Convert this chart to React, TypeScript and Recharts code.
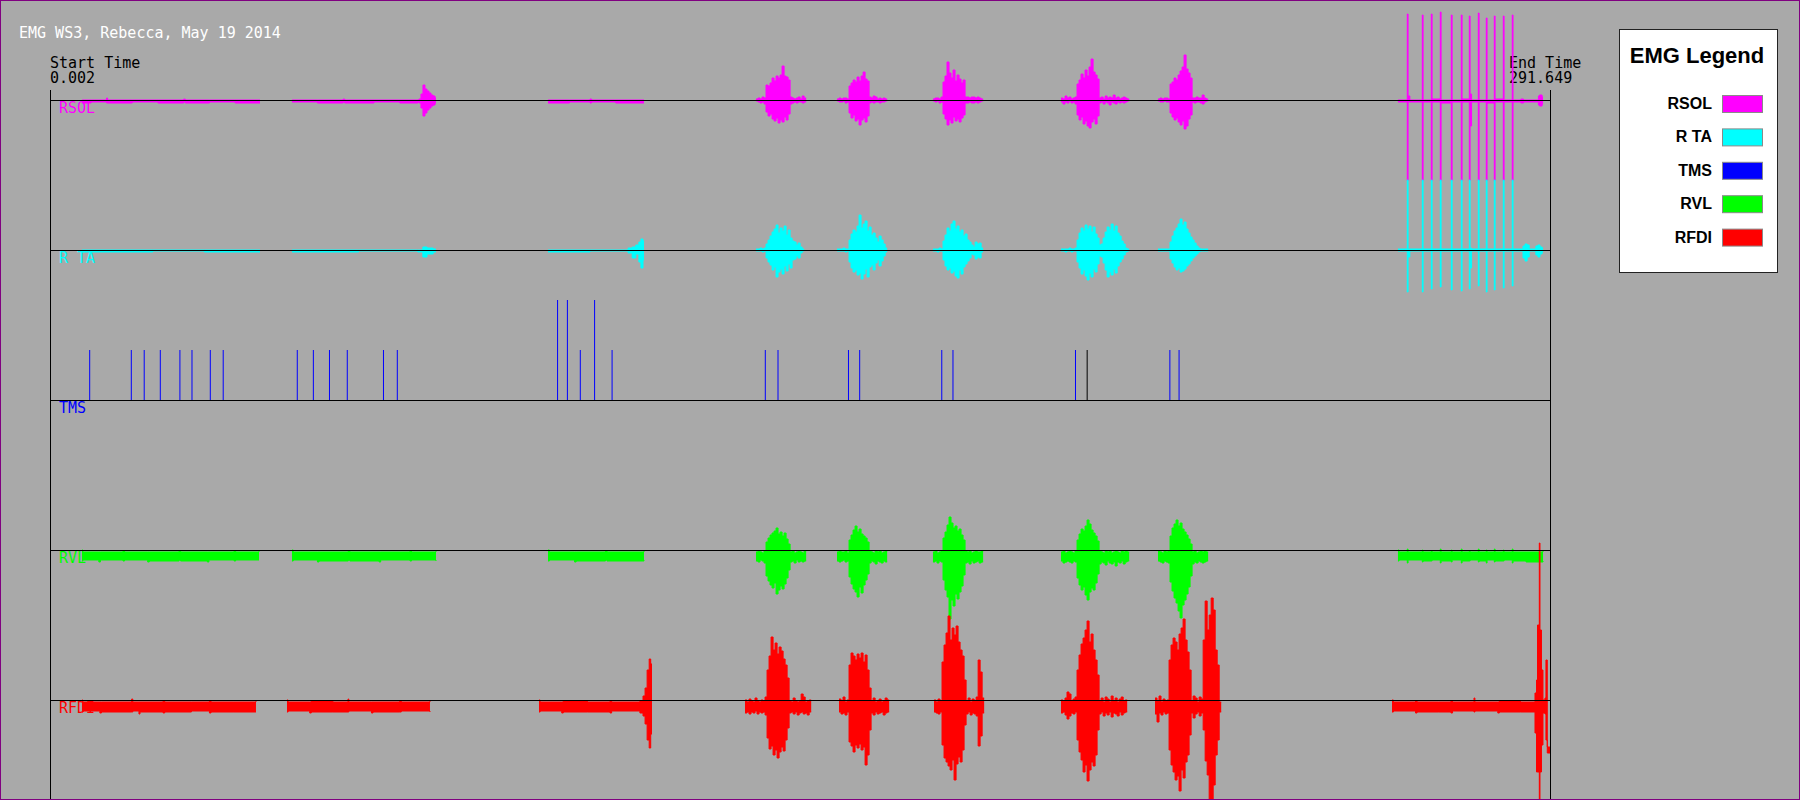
import React from "react";
import { ComposedChart, Area, Line, XAxis, YAxis, ReferenceLine } from "recharts";

const T_START = 0.002;
const T_END = 291.649;
const DT = 0.39; // s between samples inside a burst

const TITLE = "EMG WS3, Rebecca, May 19 2014";
const CHANNELS = ["RSOL", "R TA", "TMS", "RVL", "RFDI"];
const COLORS = ["#ff00ff", "#00ffff", "#0000ff", "#00ff00", "#ff0000"];
// µV over the full panel height per trace, 0 = the trace's baseline
const DOMAINS: [number, number][] = [[-7000, 1000], [-5500, 2500], [-4000, 4000], [-2500, 5500], [-1000, 7000]];

const W = 1800;
const H = 800;
const MARGIN = { top: 0, right: 250, bottom: 0, left: 50 };

// ---- RSOL ----  [t s, low µV, high µV]
const RSOL_NOISE = [
  [[6.22, -30, 0], [8.0, -20, 0], [11.0, -30, 20], [11.2, -30, 0], [16.0, -20, 0], [21.0, -30, 0], [26.0, -20, 10], [26.3, -30, 0], [31.0, -20, 0], [36.0, -30, 0], [40.83, -30, 0]],
  [[47.05, -20, 0], [52, -30, 0], [57, -20, 10], [57.3, -30, 0], [63, -20, 0], [68, -30, 0], [71.55, -20, 0], [71.74, -30, 10], [72.13, -80, 60], [72.52, -160, 150], [72.91, -130, 110], [73.3, -100, 90], [73.69, -80, 70], [74.08, -60, 50], [74.47, -50, 40], [74.86, -30, 20], [75.05, -30, 20]],
  [[96.83, -30, 0], [101, -20, 0], [105, -30, 10], [105.3, -20, 0], [110, -30, 0], [115.49, -30, 0]],
  [[262.09, -20, 0], [263.9, -810, 860], [264.05, -20, 40], [264.4, -20, 0], [266.82, -810, 850], [266.97, -20, 0], [268.57, -810, 860], [268.72, -20, 10], [270.32, -810, 880], [270.47, -30, 0], [272.46, -810, 850], [272.61, -20, 0], [274.4, -810, 850], [274.55, -20, 10], [275.96, -810, 840], [276.11, -260, 60], [276.4, -20, 0], [277.71, -810, 870], [277.86, -20, 0], [279.26, -810, 820], [279.41, -30, 0], [280.82, -810, 840], [280.97, -20, 10], [282.57, -810, 840], [282.72, -20, 0], [284.31, -810, 850], [284.46, -20, 0], [286.0, -30, 10], [286.5, -20, 0], [289.4, -50, 40], [289.6, -60, 50], [290.1, -40, 30], [290.29, -40, 30]],
];
const RSOL_T0 = [137.27, 153.02, 171.68, 196.57, 215.43];
const RSOL_HI = [
  [10, 20, 10, 30, 20, 150, 140, 170, 220, 190, 240, 220, 250, 340, 240, 230, 200, 30, 20, 10, 20, 30, 10, 40, 20],
  [10, 20, 10, 20, 20, 10, 140, 170, 200, 180, 230, 190, 240, 280, 210, 190, 30, 20, 40, 30, 10, 20, 10, 20, 10],
  [10, 20, 20, 10, 30, 180, 240, 380, 270, 220, 300, 190, 250, 210, 170, 200, 30, 30, 20, 30, 30, 20, 30, 20, 10],
  [20, 10, 40, 20, 30, 10, 20, 30, 160, 200, 260, 220, 300, 240, 330, 410, 280, 250, 210, 20, 30, 10, 40, 20, 30, 20, 50, 20, 30, 10, 20, 30, 20, 10],
  [10, 20, 10, 20, 20, 10, 160, 180, 220, 200, 250, 290, 330, 450, 310, 270, 220, 20, 20, 30, 20, 20, 50, 20, 10],
];
const RSOL_LO = [
  [-10, -20, -30, -20, -40, -120, -160, -140, -190, -210, -180, -230, -200, -220, -170, -200, -140, -40, -30, -20, -30, -20, -20, -30, -20],
  [-10, -20, -20, -10, -30, -20, -130, -180, -150, -210, -190, -250, -200, -180, -220, -160, -30, -20, -30, -20, -20, -30, -20, -20, -10],
  [-10, -20, -10, -30, -20, -140, -190, -250, -200, -230, -170, -210, -190, -220, -180, -150, -30, -30, -20, -30, -30, -20, -30, -20, -10],
  [-20, -40, -20, -30, -10, -30, -20, -40, -150, -200, -170, -240, -210, -260, -280, -220, -190, -240, -160, -30, -20, -40, -20, -30, -50, -20, -30, -40, -20, -30, -20, -30, -20, -10],
  [-10, -20, -20, -10, -20, -20, -130, -170, -200, -180, -220, -250, -210, -290, -260, -190, -150, -20, -30, -20, -20, -30, -40, -20, -10],
];

// ---- R TA ----
const RTA_NOISE = [
  [[6.22, -20, 0], [20, -10, 0], [30, -20, 0], [40.83, -20, 0]],
  [[47.05, -20, 0], [60, -10, 0], [71.5, -20, 0], [72.5, -70, 30], [73.3, -40, 20], [74.5, -20, 10], [75.05, -20, 10]],
  [[96.83, -20, 0], [105, -10, 0], [112.4, -30, 20], [113.2, -80, 30], [113.9, -40, 50], [114.5, -120, 80], [114.9, -180, 110], [115.3, -100, 90], [115.5, -100, 90]],
  [[262.09, -10, 10], [263.9, -420, 700], [264.05, -70, 10], [264.4, -10, 10], [266.82, -420, 700], [266.97, -10, 10], [268.57, -390, 700], [268.72, -10, 10], [270.32, -370, 700], [270.47, -10, 10], [272.46, -400, 700], [272.61, -10, 10], [274.4, -410, 700], [274.55, -10, 10], [275.96, -390, 700], [276.11, -180, 20], [276.4, -10, 10], [277.71, -360, 700], [277.86, -10, 10], [279.26, -420, 700], [279.41, -10, 10], [280.82, -400, 700], [280.97, -10, 10], [282.57, -380, 700], [282.72, -10, 10], [284.31, -360, 700], [284.46, -10, 10], [286.4, -80, 40], [286.8, -110, 60], [287.2, -70, 50], [287.6, -10, 10], [288.9, -50, 40], [289.3, -70, 50], [289.7, -40, 30], [290.1, -20, 20], [290.3, -20, 20]],
];
const RTA_T0 = [137.27, 153.02, 171.68, 196.57, 215.43];
const RTA_HI = [
  [10, 10, 20, 10, 20, 60, 100, 140, 180, 210, 250, 170, 220, 190, 240, 150, 200, 120, 90, 80, 50, 70, 30, 10],
  [10, 10, 10, 20, 10, 10, 100, 160, 200, 180, 240, 350, 220, 260, 290, 190, 230, 150, 170, 120, 80, 140, 100, 60, 20],
  [10, 10, 10, 20, 10, 90, 150, 220, 190, 260, 290, 210, 240, 180, 200, 140, 160, 100, 80, 50, 30, 80, 60, 70, 20],
  [10, 10, 10, 10, 20, 10, 10, 20, 100, 170, 220, 190, 250, 210, 240, 180, 230, 160, 120, 50, 60, 120, 180, 230, 200, 260, 190, 240, 170, 140, 90, 60, 20, 10],
  [10, 10, 10, 10, 10, 10, 80, 140, 190, 220, 260, 310, 250, 280, 210, 170, 130, 100, 70, 40, 20, 10, 10, 10, 10],
];
const RTA_LO = [
  [-10, -10, -10, -20, -10, -80, -120, -150, -200, -170, -270, -220, -190, -240, -160, -210, -140, -180, -100, -90, -60, -80, -30, -10],
  [-10, -10, -10, -10, -20, -10, -120, -180, -220, -200, -250, -230, -290, -240, -190, -270, -170, -150, -200, -130, -100, -160, -110, -60, -20],
  [-10, -10, -20, -10, -10, -100, -160, -200, -180, -230, -210, -260, -280, -200, -240, -170, -140, -110, -80, -40, -50, -90, -70, -80, -20],
  [-10, -10, -20, -10, -10, -20, -10, -10, -120, -180, -240, -200, -260, -300, -230, -270, -190, -220, -140, -60, -70, -130, -200, -270, -220, -250, -190, -230, -160, -120, -90, -50, -20, -10],
  [-10, -10, -10, -10, -10, -10, -90, -130, -170, -200, -180, -220, -210, -190, -160, -140, -110, -80, -60, -40, -20, -10, -10, -10, -10],
];

// ---- TMS pulses ----
const TMS_T = [7.72, 15.81, 18.32, 21.45, 25.26, 27.61, 31.17, 33.68, 48.08, 51.21, 54.34, 57.8, 64.84, 67.53, 98.69, 100.6, 103.11, 105.89, 109.29, 139.08, 141.55, 155.25, 157.43, 173.39, 175.57, 199.39, 217.74, 219.53];
const TMS_UV = [500, 500, 500, 500, 500, 500, 500, 500, 500, 500, 500, 500, 500, 500, 1000, 1000, 500, 1000, 500, 500, 500, 500, 500, 500, 500, 500, 500, 500];
const MARK_T = [201.66];
const MARK_UV = [500];

// ---- RVL ----
const RVL_NOISE = [
  [[6.22, -110, 0], [6.4, -100, -20], [9.5, -120, -20], [9.8, -100, -20], [14.2, -110, -10], [14.5, -100, -20], [19.0, -120, -20], [19.3, -110, -20], [25.1, -100, -10], [25.4, -110, -20], [30.6, -120, -20], [30.9, -100, -20], [35.8, -110, -10], [36.1, -100, -20], [40.64, -100, 0]],
  [[47.05, -110, 0], [47.3, -100, -20], [52, -120, -20], [52.3, -110, -20], [58, -100, -10], [58.3, -110, -20], [64, -120, -20], [64.3, -100, -20], [70, -110, -10], [70.3, -100, -20], [75.05, -110, 0]],
  [[96.83, -110, 0], [97.1, -100, -20], [102, -120, -20], [102.3, -110, -20], [108, -100, -10], [108.3, -110, -20], [115.49, -100, 0]],
  [[262.09, -110, 0], [262.3, -100, -20], [263.9, -130, 10], [264.05, -100, -20], [266.82, -120, 0], [266.97, -110, -20], [268.57, -110, -10], [268.72, -100, -20], [270.32, -130, 10], [270.47, -110, -20], [272.46, -120, 0], [272.61, -100, -20], [274.4, -130, 10], [274.55, -110, -20], [275.96, -110, -10], [276.11, -100, -20], [277.71, -120, 10], [277.86, -110, -20], [279.26, -130, 0], [279.41, -100, -20], [280.82, -120, 10], [280.97, -110, -20], [282.57, -110, 0], [282.72, -100, -20], [284.31, -130, 10], [284.46, -110, -20], [287.0, -120, -20], [290.29, -110, 0]],
];
const RVL_T0 = [137.27, 153.02, 171.68, 196.57, 215.43];
const RVL_HI = [
  [-20, -10, -20, -30, -10, 80, 120, 150, 170, 190, 220, 160, 180, 140, 170, 110, 60, -20, -10, -30, -20, -10, -20, -30, -10],
  [-20, -10, -20, -20, -10, -30, 100, 150, 200, 240, 180, 210, 160, 140, 120, 80, -10, -20, -30, -10, -20, -10, -30, -20, -10],
  [-20, -10, -30, -20, -10, 120, 180, 250, 330, 270, 220, 240, 190, 210, 150, 100, -10, -20, -10, -30, -20, -10, -20, -20, -10],
  [-20, -10, -30, -20, -10, -20, -30, -10, 100, 160, 210, 190, 240, 300, 260, 200, 170, 140, 90, -10, -20, -30, -10, -20, -10, -30, -20, -10, -20, -30, -10, -20, -10, -20],
  [-10, -20, -30, -10, -20, -10, 140, 220, 260, 300, 240, 270, 210, 180, 150, 110, 60, -20, -10, -30, -20, -10, -20, -10, -20],
];
const RVL_LO = [
  [-110, -120, -100, -110, -130, -260, -310, -350, -380, -330, -440, -400, -360, -390, -340, -280, -200, -120, -110, -130, -100, -120, -110, -120, -110],
  [-110, -120, -110, -100, -120, -110, -270, -340, -390, -420, -470, -370, -430, -350, -300, -240, -130, -110, -120, -140, -110, -120, -130, -110, -120],
  [-120, -110, -130, -110, -120, -300, -400, -470, -690, -500, -560, -440, -490, -420, -360, -250, -130, -120, -140, -110, -130, -120, -110, -130, -120],
  [-110, -130, -120, -110, -120, -130, -110, -120, -280, -350, -400, -370, -450, -500, -420, -380, -400, -330, -240, -140, -120, -130, -150, -110, -130, -140, -120, -160, -120, -130, -110, -140, -120, -110],
  [-110, -120, -130, -110, -120, -130, -320, -410, -480, -530, -610, -680, -550, -500, -440, -370, -260, -140, -120, -130, -110, -120, -130, -120, -110],
];

// ---- RFDI ----
const RFDI_NOISE = [
  [[6.22, -120, 0], [6.4, -110, -20], [9.7, -130, -20], [10.0, -120, -20], [15.88, -120, 10], [16.1, -110, -20], [17.3, -140, -20], [17.5, -120, -20], [22.0, -130, -10], [22.3, -120, -20], [27.5, -110, -20], [31.0, -130, -10], [31.3, -120, -20], [35.6, -120, -20], [40.05, -120, 0]],
  [[46.08, -120, 0], [46.3, -110, -20], [50.5, -130, -20], [50.8, -120, -10], [55.0, -120, -20], [57.94, -120, 10], [58.1, -110, -20], [62.5, -130, -20], [62.8, -120, -20], [68.0, -120, -10], [68.3, -110, -20], [73.88, -120, 0]],
  [[95.08, -120, 0], [95.3, -110, -20], [99.5, -130, -20], [99.8, -120, -10], [104.5, -120, -20], [108.9, -130, -10], [109.2, -110, -20], [114.7, -130, -10], [115.3, -160, 40], [115.7, -240, 120], [116.1, -400, 300], [116.5, -480, 410], [116.8, -340, 360], [117.05, -340, 360]],
  [[260.93, -120, 0], [261.2, -110, -20], [265.5, -130, -10], [265.8, -120, -20], [270.0, -120, -20], [272.4, -130, -10], [272.7, -110, -20], [276.87, -120, 20], [277.05, -110, -20], [281.5, -130, -20], [281.8, -120, -10], [285.9, -120, -20], [288.73, -330, 70], [289.03, -720, 200], [289.22, -720, 750], [289.57, -1000, 1570], [289.7, -720, 700], [289.99, -450, 300], [290.28, -130, 0], [290.67, -140, 20], [290.86, -400, 400], [291.12, -530, -470], [291.649, -530, -470]],
];
const RFDI_T0 = [135.13, 153.41, 171.88, 196.57, 214.85];
const RFDI_HI = [
  [0, -20, 10, -10, -20, 20, -10, -20, 0, -10, 30, 300, 440, 630, 500, 570, 460, 530, 490, 410, 350, 220, -10, -20, 20, -10, -20, -10, 60, 30, -20, -10, 0],
  [10, -10, 30, -20, 0, 350, 470, 440, 400, 460, 420, 470, 380, 450, 300, 120, -10, 20, -20, -10, 10, -20, -10, 20, 0],
  [0, -20, 10, -10, 380, 550, 670, 840, 600, 720, 650, 740, 580, 500, 440, 200, -10, 20, -20, 10, -10, 30, 400, 280, 20],
  [0, -10, 20, 80, 60, -10, 10, 30, 300, 450, 560, 620, 700, 790, 580, 660, 500, 400, 250, -10, 20, -20, 30, 10, -20, 40, -10, 20, -20, 10, 30, -10, 0],
  [20, -10, 40, -20, 10, -10, 0, 400, 550, 620, 580, 500, 660, 720, 810, 600, 480, 300, -10, 40, 20, -20, 30, 10, 600, 990, 700, 850, 1020, 900, 500, 350, -20],
];
const RFDI_LO = [
  [-130, -120, -140, -120, -130, -110, -140, -120, -130, -120, -150, -380, -490, -460, -550, -500, -580, -520, -470, -510, -400, -280, -130, -120, -140, -120, -150, -130, -120, -140, -130, -150, -120],
  [-120, -140, -130, -150, -120, -420, -460, -520, -450, -480, -440, -500, -470, -650, -550, -300, -130, -150, -120, -140, -130, -120, -150, -130, -120],
  [-120, -130, -140, -120, -450, -580, -620, -660, -700, -600, -800, -640, -570, -620, -500, -250, -140, -120, -150, -130, -140, -160, -460, -360, -130],
  [-130, -120, -150, -190, -160, -130, -140, -120, -400, -520, -600, -720, -650, -810, -700, -620, -660, -550, -300, -140, -120, -160, -130, -150, -120, -170, -130, -140, -160, -120, -150, -130, -120],
  [-140, -220, -130, -150, -120, -140, -130, -500, -650, -720, -800, -760, -910, -700, -780, -620, -550, -350, -130, -180, -140, -120, -160, -130, -300, -610, -750, -1000, -1000, -850, -550, -400, -120],
];

type Row = { t: number; v: (number | null)[] };

function buildRows(noise: number[][][], t0s: number[], his: number[][], los: number[][]): Row[] {
  const pieces: number[][][] = [...noise];
  t0s.forEach((t0, b) => {
    const rows = his[b].map((h, i) => [t0 + i * DT, los[b][i] ?? -10, h]);
    const last = rows[rows.length - 1];
    rows.push([last[0] + DT, last[1], last[2]]);
    pieces.push(rows);
  });
  pieces.sort((a, b) => a[0][0] - b[0][0]);
  const out: Row[] = [];
  pieces.forEach((p, i) => {
    if (i > 0) {
      const prev = pieces[i - 1];
      out.push({ t: (prev[prev.length - 1][0] + p[0][0]) / 2, v: [null, null] });
    }
    p.forEach(([t, lo, hi]) => out.push({ t, v: [lo, hi] }));
  });
  return out;
}

// each pulse is a lone vertical stroke, broken from the next one
const pulseRows = (ts: number[], hs: number[]) =>
  ts.flatMap((t, i) => [{ t, v: 0 }, { t, v: hs[i] }, { t, v: null }]);

const TRACES = [
  buildRows(RSOL_NOISE, RSOL_T0, RSOL_HI, RSOL_LO),
  buildRows(RTA_NOISE, RTA_T0, RTA_HI, RTA_LO),
  null,
  buildRows(RVL_NOISE, RVL_T0, RVL_HI, RVL_LO),
  buildRows(RFDI_NOISE, RFDI_T0, RFDI_HI, RFDI_LO),
];

const layer: React.CSSProperties = { position: "absolute", left: 0, top: 0 };
const mono = "'DejaVu Sans Mono', 'Liberation Mono', monospace";

function Trace({ rows, color, domain }: { rows: Row[]; color: string; domain: [number, number] }) {
  return (
    <div style={layer}>
      <ComposedChart width={W} height={H} data={rows} margin={MARGIN}>
        <XAxis dataKey="t" type="number" domain={[T_START, T_END]} allowDataOverflow hide />
        <YAxis type="number" domain={domain} allowDataOverflow hide />
        <Area
          type="stepAfter"
          dataKey="v"
          stroke={color}
          strokeWidth={1}
          fill={color}
          fillOpacity={1}
          dot={false}
          activeDot={false}
          isAnimationActive={false}
        />
      </ComposedChart>
    </div>
  );
}

function Pulses({ ts, hs, color }: { ts: number[]; hs: number[]; color: string }) {
  return (
    <div style={layer}>
      <ComposedChart width={W} height={H} data={pulseRows(ts, hs)} margin={MARGIN}>
        <XAxis dataKey="t" type="number" domain={[T_START, T_END]} allowDataOverflow hide />
        <YAxis type="number" domain={DOMAINS[2]} allowDataOverflow hide />
        <Line type="linear" dataKey="v" stroke={color} strokeWidth={1} dot={false} activeDot={false} connectNulls={false} isAnimationActive={false} />
      </ComposedChart>
    </div>
  );
}

function Axes() {
  return (
    <div style={layer}>
      <ComposedChart width={W} height={H} data={TRACES[4] as Row[]} margin={MARGIN}>
        <XAxis dataKey="t" type="number" domain={[T_START, T_END]} allowDataOverflow hide />
        {DOMAINS.map((d, i) => (
          <YAxis key={i} yAxisId={i} type="number" domain={d} allowDataOverflow hide />
        ))}
        {DOMAINS.map((_, i) => (
          <ReferenceLine key={i} yAxisId={i} y={0} stroke="#000" strokeWidth={1} shapeRendering="crispEdges" />
        ))}
        <ReferenceLine yAxisId={0} segment={[{ x: T_START, y: 100 }, { x: T_START, y: DOMAINS[0][0] }]} stroke="#000" shapeRendering="crispEdges" />
        <ReferenceLine yAxisId={0} segment={[{ x: T_END, y: 100 }, { x: T_END, y: DOMAINS[0][0] }]} stroke="#000" shapeRendering="crispEdges" />
      </ComposedChart>
    </div>
  );
}

function EmgLegend() {
  return (
    <div style={{ position: "absolute", left: 1619, top: 29, width: 159, height: 244, background: "#fff", border: "1px solid #222", boxSizing: "border-box" }}>
      <svg width={157} height={242} style={{ display: "block" }}>
        <text x={77} y={33} textAnchor="middle" fontFamily="'Liberation Sans', Arial, sans-serif" fontWeight="bold" fontSize={22} fill="#000">
          EMG Legend
        </text>
        {CHANNELS.map((name, i) => (
          <g key={name}>
            <text x={92} y={79 + i * 33.4} textAnchor="end" fontFamily="'Liberation Sans', Arial, sans-serif" fontWeight="bold" fontSize={16} fill="#000">
              {name}
            </text>
            <rect x={102.5} y={65.5 + i * 33.4} width={40} height={17} fill={COLORS[i]} stroke="#8a8a8a" />
          </g>
        ))}
      </svg>
    </div>
  );
}

export default function App() {
  return (
    <div style={{ position: "absolute", left: 0, top: 0, width: W, height: H, background: "#a9a9a9", overflow: "hidden" }}>
      <svg width={W} height={H} style={layer}>
        <text x={19} y={38} fill="#fff" fontFamily={mono} fontSize={15}>{TITLE}</text>
        <text x={50} y={68} fill="#000" fontFamily={mono} fontSize={15}>Start Time</text>
        <text x={50} y={83} fill="#000" fontFamily={mono} fontSize={15}>{T_START.toFixed(3)}</text>
        <text x={1509} y={68} fill="#000" fontFamily={mono} fontSize={15}>End Time</text>
        <text x={1509} y={83} fill="#000" fontFamily={mono} fontSize={15}>{T_END.toFixed(3)}</text>
        {CHANNELS.map((name, i) => (
          <text key={name} x={59} y={113 + i * 150} fill={COLORS[i]} fontFamily={mono} fontSize={15}>{name}</text>
        ))}
      </svg>
      <Trace rows={TRACES[0] as Row[]} color={COLORS[0]} domain={DOMAINS[0]} />
      <Trace rows={TRACES[1] as Row[]} color={COLORS[1]} domain={DOMAINS[1]} />
      <Pulses ts={TMS_T} hs={TMS_UV} color={COLORS[2]} />
      <Pulses ts={MARK_T} hs={MARK_UV} color="#000" />
      <Trace rows={TRACES[3] as Row[]} color={COLORS[3]} domain={DOMAINS[3]} />
      <Trace rows={TRACES[4] as Row[]} color={COLORS[4]} domain={DOMAINS[4]} />
      <Axes />
      <EmgLegend />
      <div style={{ ...layer, width: W, height: H, boxSizing: "border-box", border: "1px solid #800080" }} />
    </div>
  );
}
